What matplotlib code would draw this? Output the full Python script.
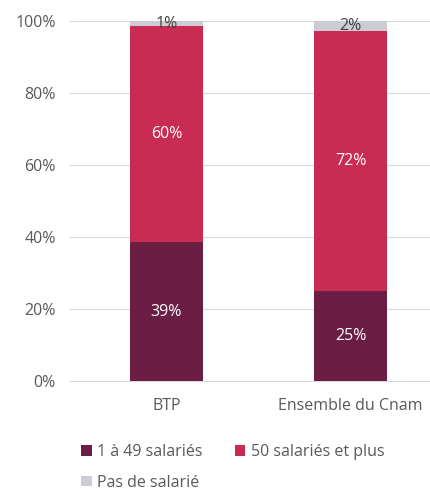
import numpy as np
import matplotlib.pyplot as plt
from matplotlib.patches import Patch

plt.rcParams['font.family'] = ['Open Sans', 'DejaVu Sans']

categories = ["BTP", "Ensemble du Cnam"]
series_names = ["1 à 49 salariés", "50 salariés et plus", "Pas de salarié"]
petites = [38.6, 25.0]
grandes = [60.0, 72.2]
sans_salarie = [1.4, 2.8]
labels_petites = ["39%", "25%"]
labels_grandes = ["60%", "72%"]
labels_sans = ["1%", "2%"]

colors = ["#6B1D43", "#C92C53", "#CDCBD3"]
txt = "#595959"
fs = 11.5

fig = plt.figure(figsize=(4.31, 4.90), dpi=100)
ax = fig.add_axes([75/431, 1 - 381/490, 356/431, 360/490])

x = np.arange(len(categories))
w = 0.397
ax.bar(x, petites, w, color=colors[0], zorder=3)
ax.bar(x, grandes, w, bottom=petites, color=colors[1], zorder=3)
base3 = np.array(petites) + np.array(grandes)
ax.bar(x, sans_salarie, w, bottom=base3, color=colors[2], zorder=3)

for i in range(len(categories)):
    ax.text(x[i], petites[i] / 2, labels_petites[i], ha='center', va='center',
            color='white', fontsize=fs, zorder=4)
    ax.text(x[i], petites[i] + grandes[i] / 2, labels_grandes[i], ha='center', va='center',
            color='white', fontsize=fs, zorder=4)
    ax.text(x[i], base3[i] + sans_salarie[i] / 2, labels_sans[i], ha='center', va='center',
            color='#404040', fontsize=fs, zorder=4)

ax.set_xlim(-0.497, 1.4375)
ax.set_ylim(0, 100)
ax.set_yticks(np.arange(0, 101, 20))
ax.set_yticklabels([f"{v}%" for v in range(0, 101, 20)])
ax.set_xticks(x)
ax.set_xticklabels(categories)
ax.grid(axis='y', color='#D9D9D9', linewidth=0.8, zorder=0)
for s in ['top', 'right', 'left']:
    ax.spines[s].set_visible(False)
ax.spines['bottom'].set_color('#D9D9D9')
ax.tick_params(axis='y', length=4, color='#D9D9D9', labelcolor=txt, labelsize=fs, pad=10)
ax.tick_params(axis='x', length=0, labelcolor=txt, labelsize=fs, pad=12)

# ordre pour remplir les colonnes comme dans la référence
order = [0, 2, 1]
handles = [Patch(facecolor=colors[k]) for k in order]
names = [series_names[k] for k in order]
fig.legend(handles, names, loc='upper left', bbox_to_anchor=(70/431, 1 - 433/490),
           ncol=2, frameon=False, fontsize=fs, labelcolor=txt,
           handlelength=0.65, handleheight=0.65, handletextpad=0.35,
           columnspacing=2.0, labelspacing=0.9, borderpad=0.2)

fig.savefig("out.png", dpi=100)
